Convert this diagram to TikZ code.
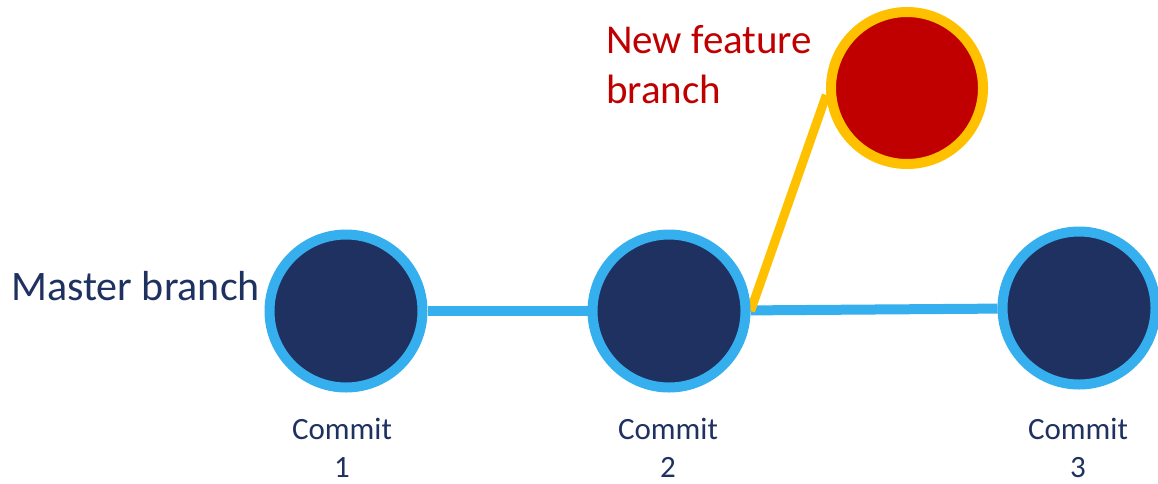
\documentclass[tikz,border=0pt]{standalone}
\usepackage{fontspec}
\setmainfont{Carlito}
\usetikzlibrary{backgrounds}
\definecolor{navy}{HTML}{1F3160}
\definecolor{skyb}{HTML}{35AFED}
\definecolor{darkred}{HTML}{C00000}
\definecolor{gold}{HTML}{FFC000}
\tikzset{
  commitnode/.style={circle, draw=skyb, fill=navy, line width=10pt, minimum size=153pt, inner sep=0pt},
  featnode/.style={circle, draw=gold, fill=darkred, line width=10pt, minimum size=152pt, inner sep=0pt},
  blueline/.style={draw=skyb, line width=10pt},
  goldline/.style={draw=gold, line width=9pt},
  commitlabel/.style={text=navy, font=\fontsize{31}{38}\selectfont, align=center, anchor=north, inner sep=0pt},
  bigtext/.style={font=\fontsize{41}{50}\selectfont, inner sep=0pt}
}
\begin{document}
\begin{tikzpicture}[x=1pt,y=-1pt]
\useasboundingbox (0,0) rectangle (1158,483);
\node[commitnode] (c1) at (346,311) {};
\node[commitnode] (c2) at (669,311) {};
\node[commitnode] (c3) at (1079,308) {};
\node[featnode] (f) at (907,88) {};
\begin{scope}[on background layer]
\draw[blueline] (c1) -- (c2);
\draw[blueline] (c2) -- (c3);
\draw[goldline] (c2.east) -- (f.185);
\end{scope}
\node[bigtext, font=\fontsize{42}{50}\selectfont, text=navy, anchor=base east] (mlab) at (260,300) {Master branch};
\node[bigtext, text=darkred, align=left, anchor=north west] (flab) at (606,25) {New feature\\branch};
\node[commitlabel] (l1) at (342,418) {Commit\\1};
\node[commitlabel] (l2) at (668,418) {Commit\\2};
\node[commitlabel] (l3) at (1078,418) {Commit\\3};
\end{tikzpicture}
\end{document}
